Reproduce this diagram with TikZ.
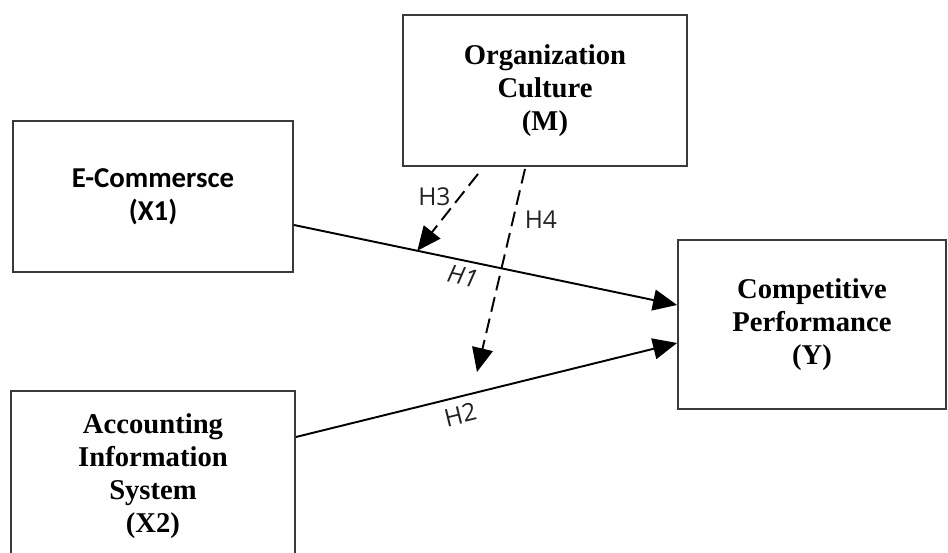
\documentclass[tikz,border=0pt]{standalone}
\usepackage{fontspec}
\usepackage{tikz}
\usetikzlibrary{arrows.meta}
\newfontfamily\boxserif{Liberation Serif}
\newfontfamily\boxsans{Carlito}
\newfontfamily\hypfont{Open Sans}
\definecolor{boxline}{HTML}{3A3A3A}
\definecolor{hypcolor}{HTML}{222222}

\begin{document}
\begin{tikzpicture}[x=0.02cm, y=-0.02cm, >={Triangle[length=0.48cm,width=0.42cm]},
    construct/.style={draw=boxline, line width=1.1pt, fill=white, align=center, inner sep=0pt},
    serifbox/.style={construct, font=\boxserif\bfseries\fontsize{16.3}{18.8}\selectfont},
    sansbox/.style={construct, font=\boxsans\bfseries\fontsize{16.4}{18.8}\selectfont},
    path/.style={line width=1.1pt, ->},
    moderate/.style={line width=1.1pt, ->, dash pattern=on 8.5pt off 4pt},
    hyp/.style={font=\hypfont\fontsize{14}{16}\selectfont, text=hypcolor}]
    \useasboundingbox (0,0) rectangle (948,553);
    \clip (0,0) rectangle (948,553);

    % Constructs
    \node[sansbox, minimum width=5.6cm, minimum height=3.02cm] (ecom) at (153,196.5) {E-Commersce\\(X1)};
    \node[serifbox, minimum width=5.68cm, minimum height=3.02cm] (org) at (545,90.5) {Organization\\Culture\\(M)};
    \node[serifbox, minimum width=5.36cm, minimum height=3.38cm] (comp) at (812,324.5) {Competitive\\Performance\\(Y)};
    \node[serifbox, minimum width=5.68cm, minimum height=3.4cm] (ais) at (153,476) {Accounting\\Information\\System\\(X2)};

    % Direct effects
    \draw[path] ([yshift=-0.57cm]ecom.east) -- ([yshift=0.39cm]comp.west)
        node[hyp, midway, sloped, below, xshift=-0.4cm, font=\hypfont\itshape\fontsize{14}{16}\selectfont] {H1}
        coordinate[pos=0.322] (m1);
    \draw[path] ([yshift=0.78cm]ais.east) -- ([yshift=-0.37cm]comp.west)
        node[hyp, pos=0.42, sloped, below, yshift=-0.04cm] {H2};

    % Moderation
    \coordinate (m2) at (477,372);
    \draw[moderate] ([xshift=-1.34cm, yshift=-0.14cm]org.south) -- (m1)
        node[hyp, pos=0.3, left, xshift=-0.05cm] {H3};
    \draw[moderate] ([xshift=-0.4cm, yshift=-0.04cm]org.south) -- (m2)
        node[hyp, pos=0.25, right, xshift=0.1cm] {H4};
\end{tikzpicture}
\end{document}
